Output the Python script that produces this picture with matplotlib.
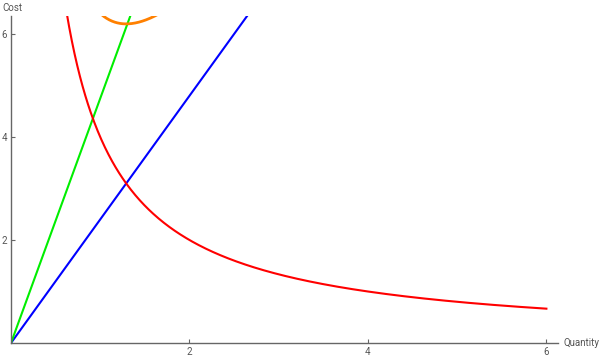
import matplotlib
matplotlib.use("Agg")
import matplotlib.pyplot as plt
import numpy as np

# cost curves
fixed_cost = 4.0      # red: fixed / q
slope_blue = 2.4      # blue: slope_blue * q
slope_green = 4.75    # green: slope_green * q
x_ticks = [2, 4, 6]
y_ticks = [2, 4, 6]

q = np.linspace(0.001, 6, 600)
red = fixed_cost / q
blue = slope_blue * q
green = slope_green * q
orange = red + blue

fig = plt.figure(figsize=(6, 3.63), dpi=100)
ax = fig.add_axes([11 / 600, 20 / 363, 547 / 600, 327 / 363])

ax.plot(q, blue, color="#0000FF", lw=1.5)
ax.plot(q, green, color="#00EE00", lw=1.5)
ax.plot(q, red, color="#FF0000", lw=1.5)
ax.plot(q, orange, color="#FF8000", lw=2.0)

ax.set_xlim(0, 6.13)
ax.set_ylim(0, 6.35)

for s in ["top", "right"]:
    ax.spines[s].set_visible(False)
for s in ["left", "bottom"]:
    ax.spines[s].set_color("#666666")
    ax.spines[s].set_linewidth(1.0)

ax.set_xticks(x_ticks)
ax.set_yticks(y_ticks)
ax.tick_params(direction="in", length=3, color="#666666", labelcolor="#555555",
               labelsize=7, pad=3)
for lab in ax.get_xticklabels() + ax.get_yticklabels():
    lab.set_family("Roboto")

fig.text(2 / 600, 1 - 8 / 363, "Cost", fontsize=7, color="#555555",
         family="Roboto", va="center", ha="left")
fig.text(564 / 600, 20 / 363, "Quantity", fontsize=7, color="#555555",
         family="Roboto", va="center", ha="left")

fig.savefig("out.png", dpi=100)
